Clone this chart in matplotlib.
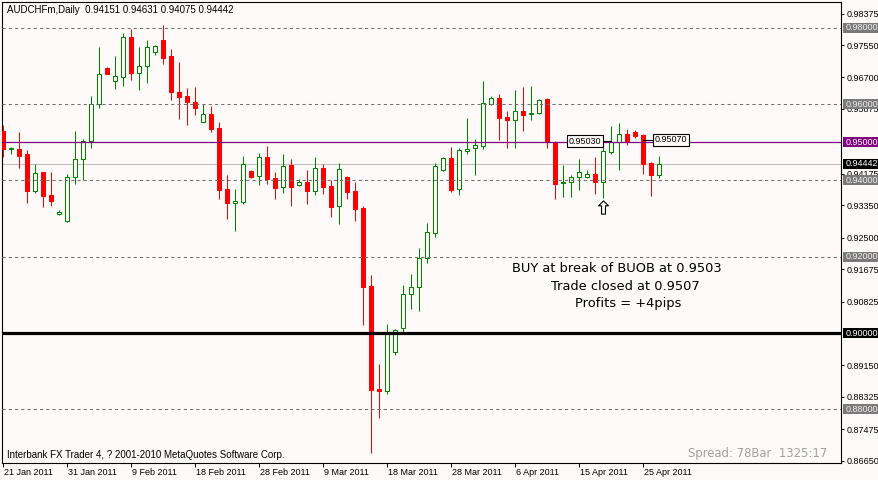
import matplotlib
matplotlib.use('Agg')
import matplotlib.pyplot as plt
from matplotlib.patches import Rectangle
from matplotlib.path import Path
import matplotlib.transforms as mtransforms
import numpy as np

# ---------------- data (AUDCHFm, Daily) ----------------
opens = [0.9530, 0.9482, 0.9482, 0.9469, 0.9373, 0.9422, 0.9363, 0.9313, 0.9293, 0.9408,
         0.9455, 0.9503, 0.9600, 0.9696, 0.9662, 0.9672, 0.9776, 0.9682, 0.9699, 0.9736,
         0.9768, 0.9726, 0.9632, 0.9621, 0.9605, 0.9554, 0.9574, 0.9537, 0.9378, 0.9342,
         0.9344, 0.9426, 0.9411, 0.9461, 0.9406, 0.9382, 0.9440, 0.9387, 0.9396, 0.9373,
         0.9433, 0.9385, 0.9332, 0.9409, 0.9372, 0.9328, 0.9123, 0.8853, 0.8849, 0.8950,
         0.9012, 0.9102, 0.9120, 0.9196, 0.9261, 0.9427, 0.9459, 0.9377, 0.9478, 0.9484,
         0.9491, 0.9600, 0.9616, 0.9566, 0.9559, 0.9582, 0.9573, 0.9578, 0.9614, 0.9499,
         0.9393, 0.9395, 0.9408, 0.9410, 0.9417, 0.9396, 0.9475, 0.9501, 0.9522, 0.9527,
         0.9518, 0.9446, 0.94151]
highs = [0.9545, 0.9488, 0.9527, 0.9480, 0.9443, 0.9423, 0.9422, 0.9322, 0.9417, 0.9530,
         0.9509, 0.9621, 0.9750, 0.9697, 0.9726, 0.9786, 0.9797, 0.9749, 0.9768, 0.9756,
         0.9807, 0.9745, 0.9710, 0.9642, 0.9645, 0.9600, 0.9595, 0.9553, 0.9414, 0.9378,
         0.9464, 0.9427, 0.9472, 0.9490, 0.9422, 0.9469, 0.9456, 0.9404, 0.9427, 0.9461,
         0.9443, 0.9400, 0.9446, 0.9412, 0.9396, 0.9333, 0.9151, 0.8919, 0.9024, 0.9010,
         0.9125, 0.9155, 0.9223, 0.9288, 0.9445, 0.9461, 0.9488, 0.9484, 0.9564, 0.9509,
         0.9661, 0.9621, 0.9627, 0.9582, 0.9637, 0.9645, 0.9648, 0.9613, 0.9616, 0.9503,
         0.9440, 0.9414, 0.9456, 0.9427, 0.9461, 0.9491, 0.9542, 0.9550, 0.9534, 0.9533,
         0.9523, 0.9449, 0.94631]
lows = [0.9462, 0.9470, 0.9433, 0.9342, 0.9368, 0.9331, 0.9334, 0.9309, 0.9292, 0.9391,
        0.9401, 0.9486, 0.9591, 0.9678, 0.9640, 0.9648, 0.9664, 0.9638, 0.9656, 0.9730,
        0.9706, 0.9611, 0.9561, 0.9545, 0.9572, 0.9553, 0.9527, 0.9352, 0.9299, 0.9268,
        0.9339, 0.9407, 0.9389, 0.9391, 0.9351, 0.9368, 0.9334, 0.9386, 0.9339, 0.9363,
        0.9364, 0.9305, 0.9287, 0.9352, 0.9295, 0.9021, 0.8686, 0.8778, 0.8839, 0.8943,
        0.9003, 0.9064, 0.9059, 0.9184, 0.9253, 0.9426, 0.9371, 0.9363, 0.9470, 0.9415,
        0.9483, 0.9597, 0.9506, 0.9485, 0.9485, 0.9530, 0.9558, 0.9575, 0.9485, 0.9351,
        0.9357, 0.9357, 0.9374, 0.9406, 0.9365, 0.9355, 0.9469, 0.9428, 0.9494, 0.9512,
        0.9417, 0.9359, 0.94075]
closes = [0.9483, 0.9484, 0.9465, 0.9373, 0.9420, 0.9360, 0.9347, 0.9318, 0.9409, 0.9455,
          0.9503, 0.9600, 0.9679, 0.9680, 0.9673, 0.9775, 0.9682, 0.9699, 0.9749, 0.9752,
          0.9722, 0.9633, 0.9620, 0.9606, 0.9591, 0.9573, 0.9535, 0.9375, 0.9342, 0.9346,
          0.9443, 0.9410, 0.9461, 0.9405, 0.9381, 0.9438, 0.9384, 0.9395, 0.9373, 0.9432,
          0.9384, 0.9331, 0.9429, 0.9371, 0.9326, 0.9122, 0.8852, 0.8849, 0.8999, 0.9009,
          0.9102, 0.9120, 0.9196, 0.9264, 0.9438, 0.9458, 0.9376, 0.9479, 0.9482, 0.9492,
          0.9602, 0.9615, 0.9564, 0.9558, 0.9581, 0.9572, 0.9577, 0.9612, 0.9501, 0.9391,
          0.9396, 0.9408, 0.9422, 0.9417, 0.9396, 0.9476, 0.9501, 0.9521, 0.9503, 0.9517,
          0.9444, 0.9414, 0.94442]

date_labels = ['21 Jan 2011', '31 Jan 2011', '9 Feb 2011', '18 Feb 2011', '28 Feb 2011',
               '9 Mar 2011', '18 Mar 2011', '28 Mar 2011', '6 Apr 2011', '15 Apr 2011',
               '25 Apr 2011']
date_label_bars = [0, 8, 16, 24, 32, 40, 48, 56, 64, 72, 80]
price_ticks = [0.98375, 0.97550, 0.96700, 0.95875, 0.94175, 0.93350, 0.92500, 0.91675,
               0.90825, 0.89150, 0.88325, 0.87475, 0.86650]
dashed_levels = [0.98, 0.96, 0.94, 0.92, 0.88]
breakout_level = 0.95
support_level = 0.90
entry_price = 0.9503
exit_price = 0.9507
entry_bar = 76
exit_bar = 80
signal_bar = 75
symbol = 'AUDCHFm,Daily'
annotation_lines = ['BUY at break of BUOB at 0.9503', 'Trade closed at 0.9507', 'Profits = +4pips']

# ---------------- style ----------------
BG = '#fffafa'
GREEN = '#008000'
RED = '#ff0000'
GRAYLINE = '#6e6e6e'
PURPLE = '#800080'
SMALL = dict(family=['Liberation Sans', 'DejaVu Sans'], size=6.5)
BIG = dict(family=['DejaVu Sans'], size=9.4)

W, H = 879, 480
fig = plt.figure(figsize=(W / 100, H / 100), dpi=100, facecolor=BG)
ax = fig.add_axes([2 / W, 1 - 463 / H, 839 / W, 461 / H], facecolor=BG)

o = np.array(opens); h = np.array(highs); l = np.array(lows); c = np.array(closes)
x = np.arange(len(o))
bull = c >= o

# bid line (behind candles)
ax.axhline(closes[-1], color='#c0c0c0', lw=0.8, zorder=1)

# wicks
ax.vlines(x[bull], l[bull], h[bull], color=GREEN, lw=0.75, zorder=2)
ax.vlines(x[~bull], l[~bull], h[~bull], color=RED, lw=0.75, zorder=2)
# bodies
ax.bar(x[bull], np.maximum(c[bull] - o[bull], 0.00005), bottom=o[bull], width=0.48,
       facecolor=BG, edgecolor=GREEN, linewidth=0.75, zorder=3)
ax.bar(x[~bull], o[~bull] - c[~bull], bottom=c[~bull], width=0.48,
       facecolor=RED, edgecolor=RED, linewidth=0.75, zorder=3)

# level lines
for lv in dashed_levels:
    ax.axhline(lv, color=GRAYLINE, lw=0.75, dashes=(3, 3), zorder=4)
ax.axhline(breakout_level, color=PURPLE, lw=0.9, zorder=4)
ax.axhline(support_level, color='black', lw=2.3, zorder=4)

ax.set_xlim(-0.16, 104.7)
ax.set_ylim(0.86594, 0.98678)

# ---------------- axes / ticks ----------------
for sp in ax.spines.values():
    sp.set_color('black'); sp.set_linewidth(0.8)
ax.yaxis.tick_right()
ax.set_yticks(price_ticks)
ax.set_yticklabels([f'{v:.5f}' for v in price_ticks], **SMALL)
ax.tick_params(axis='y', direction='out', length=2.5, width=0.7, pad=1.2, colors='black')
ax.set_xticks(date_label_bars)
ax.set_xticklabels(date_labels, **SMALL)
ax.tick_params(axis='x', direction='out', length=3, width=0.7, pad=0.5, colors='black')
shift = mtransforms.ScaledTranslation(1 / 100, 0, fig.dpi_scale_trans)
for lbl in ax.get_xticklabels():
    lbl.set_ha('left')
    lbl.set_transform(lbl.get_transform() + shift)

# right-hand level boxes
ytr = ax.get_yaxis_transform()
box_h = 10 / 3815.0
def level_box(price, fc, tc='white'):
    ax.add_patch(Rectangle((1.0025, price - box_h / 2), 0.05, box_h, transform=ytr,
                           facecolor=fc, edgecolor='none', clip_on=False, zorder=6))
    ax.text(1.0055, price, f'{price:.5f}', transform=ytr, ha='left', va='center',
            color=tc, zorder=7, clip_on=False, **SMALL)

for lv in dashed_levels:
    level_box(lv, '#7a7a7a', '#f0f0f0')
level_box(breakout_level, PURPLE)
level_box(support_level, 'black')
level_box(closes[-1], 'black')

# ---------------- trade annotations ----------------
ax.plot([entry_bar - 1.3, entry_bar], [entry_price, entry_price], color='black', lw=0.8, zorder=5)
ax.text(entry_bar - 1.3, entry_price, f'{entry_price:.5f}', ha='right', va='center', zorder=6,
        bbox=dict(boxstyle='square,pad=0.18', fc=BG, ec='black', lw=0.8), **SMALL)
ax.plot([exit_bar, exit_bar + 1.4], [exit_price, exit_price], color='black', lw=0.8, zorder=5)
ax.text(exit_bar + 1.4, exit_price, f'{exit_price:.5f}', ha='left', va='center', zorder=6,
        bbox=dict(boxstyle='square,pad=0.18', fc=BG, ec='black', lw=0.8), **SMALL)

arrow = Path([(0, 1), (-0.75, 0.25), (-0.3, 0.25), (-0.3, -1), (0.3, -1), (0.3, 0.25),
              (0.75, 0.25), (0, 1)],
             [Path.MOVETO] + [Path.LINETO] * 6 + [Path.CLOSEPOLY])
ax.plot([signal_bar], [lows[signal_bar] - 0.0024], marker=arrow, ms=9.5, mfc='white',
        mec='black', mew=0.8, ls='none', zorder=6)

def ftext(px, py, s, **kw):
    fig.text(px / W, 1 - py / H, s, va='center', **kw)

ftext(512, 268.3, annotation_lines[0], **BIG)
ftext(551, 286.5, annotation_lines[1], **BIG)
ftext(575, 303.5, annotation_lines[2], **BIG)

ftext(7, 10, f'{symbol}  {opens[-1]:.5f} {highs[-1]:.5f} {lows[-1]:.5f} {closes[-1]:.5f}',
      family=['Liberation Sans'], size=7)
ftext(7, 455, 'Interbank FX Trader 4, ? 2001-2010 MetaQuotes Software Corp.',
      family=['Liberation Sans'], size=7)
ftext(688, 453, 'Spread: 78Bar  1325:17', color='#a0a0a0', family=['DejaVu Sans'], size=8.4)

fig.savefig('out.png', dpi=100, facecolor=BG)
